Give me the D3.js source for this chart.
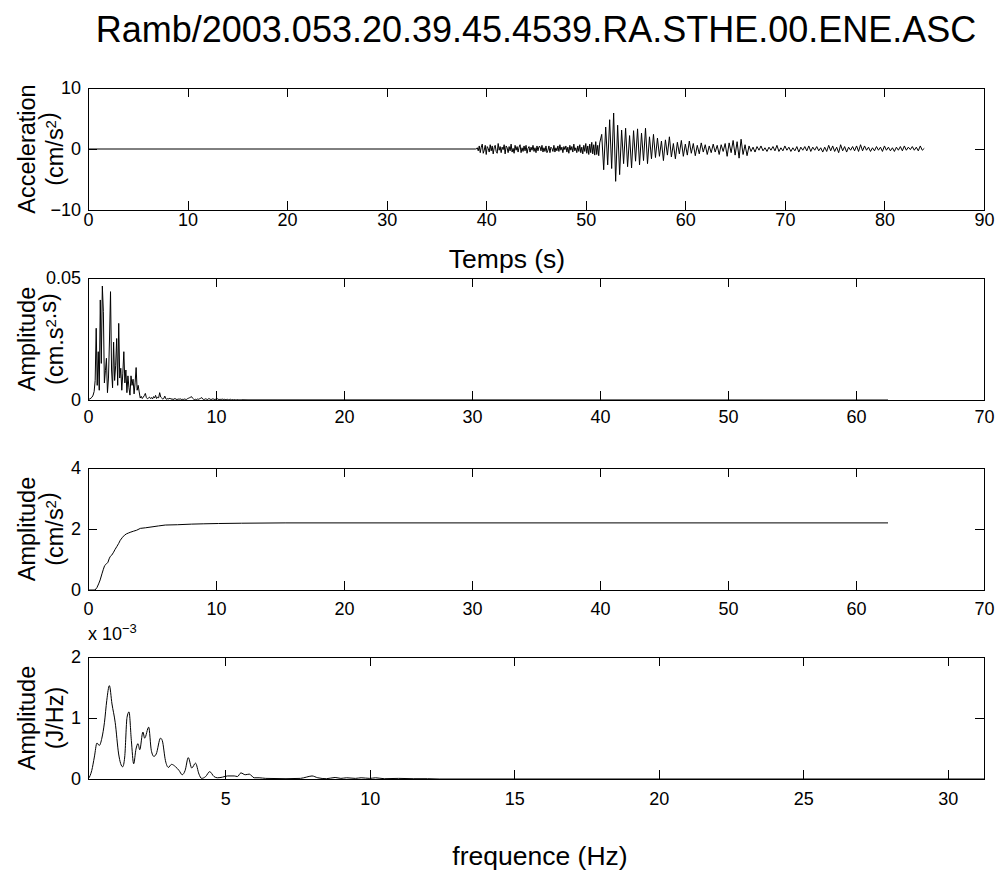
<!DOCTYPE html>
<meta charset="utf-8">

<!-- Load d3.js -->
<script src="https://d3js.org/d3.v7.min.js"></script>

<style>
  body { margin: 0; background: #fff; }
  text { font-family: "Liberation Sans", Arial, Helvetica, sans-serif; fill: #000; }
</style>

<div id="my_dataviz"></div>

<script>
  // ---- values ----

  // accelerogram: quiet until ~39 s
  var accQuietTimes = [0, 38.9];
  var accQuietValues = [0, 0];
  // pre-event noise, every 0.1 s from 39.0 to 51.4 s
  var accNoiseT0 = 39.0, accNoiseDt = 0.1;
  var accNoiseValues = [
    0, 0.2, -0.3, 0.5,
    -0.6, 0.3, 0.8, -0.7, -0.2, 0.6, -0.9, 0.4, 0.1, -0.5,
    0.7, -0.3, 0.5, -0.8, 0.2, 0.6, -0.4, -0.7, 0.9, -0.2,
    0.4, -0.6, 0.3, -0.1, 0.7, -0.8, 0.5, 0.2, -0.6, 0.4,
    -0.3, 0.8, -0.5, 0.1, -0.7, 0.6, -0.2, 0.4, -0.5, 0.3,
    0.7, -0.6, 0.2, -0.4, 0.5, -0.3, 0.6, -0.7, 0.1, 0.4,
    -0.5, 0.3, -0.2, 0.6, -0.4, 0.2, -0.6, 0.5, -0.3, 0.4,
    0.4, -0.3, 0.6, -0.5, 0.2, -0.4, 0.5, -0.6,
    -0.2, 0.5, -0.6, 0.3, 0.1, -0.4, 0.6, -0.5, 0.2, -0.3,
    0.5, -0.4, 0.7, -0.2, 0.3, -0.6, 0.4, -0.1, 0.5, -0.5,
    0.3, -0.7, 0.6, -0.2, 0.4, -0.5, 0.8, -0.3, 0.2, -0.6,
    0.5, -0.4, 0.7, -0.6, 0.3, -0.8, 0.6, -0.4, 0.9, -0.7,
    0.5, -0.9, 0.8, -0.6, 1.1, -0.8, 0.7, -1.0, 1.2, -0.9,
    0.6, -1.1, 1.0
  ];
  // main shaking and coda, every 0.2 s from 51.6 to 84.0 s
  var accT0 = 51.6, accDt = 0.2;
  var accValues = [
    2.4, -3.4, 3.6, -2.6, 4.8, -3.2, 5.9, -5.3, 3.9, -4.2, 3.1, -2.4, 3.4,
    -2.9, 2.2, -3.1, 3.0, -2.0, 3.3, -2.6, 2.6, -1.9, 3.4, -2.4, 2.0, -1.6, 2.4, -1.4,
    1.8, -1.2, 1.3, -1.9, 1.5, -1.0, 2.0, -1.3, 0.9, -1.6,
    1.1, -0.8, 1.4, -1.2, 0.8, -1.0, 1.3, -0.7, 0.9, -1.1,
    0.6, -0.8, 1.0, -0.5, 0.7, -0.9, 0.5, -0.6, 0.8, -0.5,
    0.6, -0.9, 0.7, -0.4, 0.9, -1.2, 1.0, -0.6, 1.4, -1.0,
    1.2, -1.5, 1.6, -0.9, 0.7, -1.1, 0.5, -0.4,
    0.3, -0.5, 0.4, -0.2, 0.5, -0.3, 0.2, -0.4, 0.3, -0.2,
    0.4, -0.3, 0.6, -0.4, 0.2, -0.3, 0.5, -0.2, 0.3, -0.4,
    0.2, -0.3, 0.4, -0.5, 0.3, -0.2, 0.4, -0.3, 0.5, -0.4,
    0.3, -0.2, 0.4, -0.3, 0.2, -0.5, 0.3, -0.4, 0.6, -0.3,
    0.5, -0.4, 0.3, -0.6, 0.7, -0.3, 0.4, -0.5, 0.3, -0.2,
    0.4, -0.3, 0.5, -0.4, 0.7, -0.3, 0.5, -0.2, 0.3, -0.4,
    0.2, -0.3, 0.4, -0.2, 0.3, -0.4, 0.5, -0.2, 0.3, -0.3,
    0.2, -0.4, 0.3, -0.2, 0.4, -0.3, 0.5, -0.2, 0.3, -0.1,
    0.4, -0.2, 0.3, -0.3, 0.5, -0.2, 0.1
  ];

  // Fourier amplitude spectrum, every 0.08 Hz from 0 to 12 Hz, then flat tail
  var fourierDf = 0.08;
  var fourierValues = [
    0, 0.0003, 0.0005, 0.0008, 0.0012, 0.0020, 0.0035, 0.0080, 0.0294, 0.0060,
    0.0198, 0.0040, 0.0410, 0.0150, 0.0467, 0.0362, 0.0070, 0.0120, 0.0171, 0.0030,
    0.0090, 0.0250, 0.0444, 0.0123, 0.0050, 0.0237, 0.0080, 0.0140, 0.0252, 0.0060,
    0.0314, 0.0090, 0.0130, 0.0040, 0.0110, 0.0198, 0.0070, 0.0123, 0.0030, 0.0099,
    0.0050, 0.0020, 0.0099, 0.0060, 0.0085, 0.0025, 0.0070, 0.0133, 0.0040, 0.0060,
    0.0033, 0.0008, 0.0015, 0.0006, 0.0012, 0.0018, 0.0027, 0.0010, 0.0005, 0.0008,
    0.0012, 0.0006, 0.0010, 0.0004, 0.0014, 0.0008, 0.0019, 0.0006, 0.0011, 0.0009,
    0.0030, 0.0012, 0.0008, 0.0004, 0.0006, 0.0016, 0.0005, 0.0003, 0.0006, 0.0004,
    0.0008, 0.0003, 0.0005, 0.0002, 0.0004, 0.0006, 0.0003, 0.0002, 0.0004, 0.0003,
    0.0005, 0.0002, 0.0003, 0.0002, 0.0004, 0.0003, 0.0002, 0.0005, 0.0007, 0.0009,
    0.0011, 0.0014, 0.0008, 0.0004, 0.0002, 0.0003, 0.0002, 0.0004, 0.0003, 0.0005,
    0.0007, 0.0010, 0.0004, 0.0002, 0.0003, 0.0005, 0.0003, 0.0002, 0.0006, 0.0004,
    0.0002, 0.0003, 0.0005, 0.0003, 0.0002, 0.0004, 0.0006, 0.0003, 0.0002, 0.0003,
    0.0002, 0.0004, 0.0002, 0.0003, 0.0002, 0.0002, 0.0003, 0.0001, 0.0002, 0.0003,
    0.0001, 0.0002, 0.0001, 0.0002, 0.0001, 0.0001, 0.0002, 0.0001, 0.0001, 0.0001,
    0.0001
  ];
  var fourierTailFreq = [12.5, 62.5];
  var fourierTailValues = [0.00005, 0];

  // cumulative amplitude (cm/s2)
  var cumFreq = [0, 0.55, 0.7, 0.83, 0.95, 1.09, 1.2, 1.3, 1.45, 1.56, 1.65, 1.74, 1.85, 2.0, 2.1,
    2.26, 2.4, 2.52, 2.7, 2.86, 3.0, 3.17, 3.35, 3.57, 3.8, 4.09, 4.5, 5.0, 5.5, 6.04, 7.0, 8.1,
    9.0, 10.2, 12, 15.4, 20, 30, 40, 50, 62.5];
  var cumValues = [0, 0, 0.08, 0.2, 0.33, 0.53, 0.68, 0.80, 0.86, 0.91, 1.02, 1.10, 1.14, 1.24, 1.32,
    1.43, 1.53, 1.63, 1.73, 1.80, 1.84, 1.87, 1.90, 1.93, 1.96, 2.02, 2.04, 2.07, 2.10, 2.13, 2.14, 2.16,
    2.17, 2.18, 2.19, 2.20, 2.20, 2.20, 2.20, 2.20, 2.20];

  // energy spectrum, in units of 1e-3 J/Hz
  var energyFreq = [0.25, 0.27, 0.38, 0.47, 0.56, 0.64, 0.73, 0.82, 0.90, 0.99, 1.08, 1.19, 1.31, 1.45,
    1.52, 1.60, 1.67, 1.75, 1.83, 1.91, 1.98, 2.04, 2.15, 2.21, 2.35, 2.44, 2.53, 2.61, 2.76, 2.82, 2.93,
    3.03, 3.14, 3.28, 3.40, 3.51, 3.61, 3.72, 3.84, 3.97, 4.09, 4.18, 4.32, 4.46, 4.61, 4.73, 4.90, 5.08,
    5.31, 5.42, 5.54, 5.69, 5.83, 6.0, 6.17, 6.4, 7.1, 7.6, 7.8, 8.0, 8.2, 8.5, 8.8, 9.0, 9.2, 9.5, 9.7,
    10.0, 10.2, 10.5, 11.0, 11.5, 12.0, 12.4, 20, 31.25];
  var energyValues = [0, 0.01, 0.14, 0.36, 0.59, 0.55, 0.67, 0.93, 1.29, 1.53, 1.23, 0.93, 0.41, 0.20,
    0.36, 1.01, 1.10, 0.63, 0.25, 0.49, 0.58, 0.48, 0.77, 0.67, 0.85, 0.47, 0.37, 0.41, 0.67, 0.63, 0.30,
    0.19, 0.24, 0.20, 0.14, 0.07, 0.14, 0.35, 0.18, 0.26, 0.08, 0.01, 0.04, 0.12, 0.04, 0.02, 0.03, 0.05,
    0.05, 0.04, 0.10, 0.07, 0.08, 0.02, 0.02, 0.01, 0.005, 0.01, 0.03, 0.05, 0.02, 0.005, 0.025, 0.01,
    0.02, 0.01, 0.02, 0.01, 0.02, 0.005, 0.01, 0.005, 0.005, 0, 0, 0];

  // tick labels
  var accXTicks = [0, 10, 20, 30, 40, 50, 60, 70, 80, 90];
  var accYTicks = [-10, 0, 10];
  var specXTicks = [0, 10, 20, 30, 40, 50, 60, 70];
  var fourierYTicks = [0, 0.05];
  var cumYTicks = [0, 2, 4];
  var energyXTicks = [5, 10, 15, 20, 25, 30];
  var energyYTicks = [0, 1, 2];

  var titleText = "Ramb/2003.053.20.39.45.4539.RA.STHE.00.ENE.ASC";

  // ---- layout ----
  var W = 997, H = 872;
  var left = 88, plotW = 896, plotH = 122;
  var tickLen = 9;

  var svg = d3.select("#my_dataviz")
    .append("svg")
    .attr("width", W)
    .attr("height", H);

  function fmt(d) {
    return d < 0 ? "\u2212" + Math.abs(d) : String(d);
  }

  // build one MATLAB-like axes box and return its scales
  function makePanel(top, xDomain, yDomain, xTicks, yTicks, labelGap) {
    var g = svg.append("g").attr("transform", "translate(" + left + "," + top + ")");
    var x = d3.scaleLinear().domain(xDomain).range([0, plotW]);
    var y = d3.scaleLinear().domain(yDomain).range([plotH, 0]);

    g.append("g")
      .attr("transform", "translate(0," + plotH + ")")
      .call(d3.axisBottom(x).tickValues(xTicks).tickFormat(fmt)
        .tickSizeInner(-tickLen).tickSizeOuter(0).tickPadding(labelGap));
    g.append("g")
      .call(d3.axisTop(x).tickValues(xTicks).tickFormat("")
        .tickSizeInner(-tickLen).tickSizeOuter(0));
    g.append("g")
      .call(d3.axisLeft(y).tickValues(yTicks).tickFormat(fmt)
        .tickSizeInner(-tickLen).tickSizeOuter(0).tickPadding(7));
    g.append("g")
      .attr("transform", "translate(" + plotW + ",0)")
      .call(d3.axisRight(y).tickValues(yTicks).tickFormat("")
        .tickSizeInner(-tickLen).tickSizeOuter(0));

    g.selectAll(".domain").remove();
    g.selectAll(".tick line").attr("stroke", "#000").attr("shape-rendering", "crispEdges");
    g.selectAll(".tick text")
      .style("font-size", "18px")
      .style("font-family", '"Liberation Sans", Arial, sans-serif')
      .attr("fill", "#000");

    g.append("rect")
      .attr("x", 0).attr("y", 0)
      .attr("width", plotW).attr("height", plotH)
      .attr("fill", "none")
      .attr("stroke", "#000")
      .attr("shape-rendering", "crispEdges");

    return { g: g, x: x, y: y };
  }

  function drawLine(p, data, curve) {
    var line = d3.line()
      .x(function(d) { return p.x(d[0]); })
      .y(function(d) { return p.y(d[1]); });
    if (curve) line.curve(curve);
    p.g.append("path")
      .datum(data)
      .attr("d", line)
      .attr("fill", "none")
      .attr("stroke", "#000")
      .attr("stroke-width", 1)
      .attr("stroke-linejoin", "round");
  }

  // two-line rotated y label; second line may carry a superscript
  function yLabel(top, line1, parts2) {
    var cy = top + plotH / 2;
    svg.append("text")
      .attr("transform", "translate(35," + cy + ") rotate(-90)")
      .attr("text-anchor", "middle")
      .style("font-size", "23.5px")
      .text(line1);
    var t = svg.append("text")
      .attr("transform", "translate(63," + cy + ") rotate(-90)")
      .attr("text-anchor", "middle")
      .style("font-size", "23.5px");
    parts2.forEach(function(s) {
      if (s.sup) {
        t.append("tspan").attr("dy", "-0.45em").style("font-size", "15px").text(s.sup);
        t.append("tspan").attr("dy", "0.45em").text("");
      } else {
        t.append("tspan").text(s.t);
      }
    });
  }

  // title
  svg.append("text")
    .attr("x", 536).attr("y", 42)
    .attr("text-anchor", "middle")
    .style("font-size", "36px")
    .text(titleText);

  // panel 1: accelerogram
  var p1 = makePanel(88, [0, 90], [-10, 10], accXTicks, accYTicks, 3);
  var accData = accQuietTimes.map(function(t, i) { return [t, accQuietValues[i]]; })
    .concat(accNoiseValues.map(function(v, i) { return [accNoiseT0 + i * accNoiseDt, v]; }))
    .concat(accValues.map(function(v, i) { return [accT0 + i * accDt, v]; }));
  drawLine(p1, accData);
  yLabel(88, "Acceleration", [{ t: "(cm/s" }, { sup: "2" }, { t: ")" }]);
  svg.append("text")
    .attr("x", 507).attr("y", 268)
    .attr("text-anchor", "middle")
    .style("font-size", "26.5px")
    .text("Temps (s)");

  // panel 2: Fourier spectrum
  var p2 = makePanel(278, [0, 70], [0, 0.05], specXTicks, fourierYTicks, 10);
  var fourierData = fourierValues.map(function(v, i) { return [i * fourierDf, v]; })
    .concat(fourierTailFreq.map(function(f, i) { return [f, fourierTailValues[i]]; }));
  drawLine(p2, fourierData);
  yLabel(278, "Amplitude", [{ t: "(cm.s" }, { sup: "2" }, { t: ".s)" }]);

  // panel 3: cumulative
  var p3 = makePanel(468, [0, 70], [0, 4], specXTicks, cumYTicks, 12);
  drawLine(p3, cumFreq.map(function(f, i) { return [f, cumValues[i]]; }));
  yLabel(468, "Amplitude", [{ t: "(cm/s" }, { sup: "2" }, { t: ")" }]);

  // panel 4: energy spectrum
  var p4 = makePanel(657, [0.25, 31.25], [0, 2], energyXTicks, energyYTicks, 13);
  drawLine(p4, energyFreq.map(function(f, i) { return [f, energyValues[i]]; }), d3.curveMonotoneX);
  yLabel(657, "Amplitude", [{ t: "(J/Hz)" }]);
  var expo = svg.append("text")
    .attr("x", left).attr("y", 640)
    .style("font-size", "18px");
  expo.append("tspan").text("x 10");
  expo.append("tspan").attr("dy", "-7").style("font-size", "13px").text("\u22123");

  svg.append("text")
    .attr("x", 540).attr("y", 865)
    .attr("text-anchor", "middle")
    .style("font-size", "26.5px")
    .text("frequence (Hz)");
</script>
